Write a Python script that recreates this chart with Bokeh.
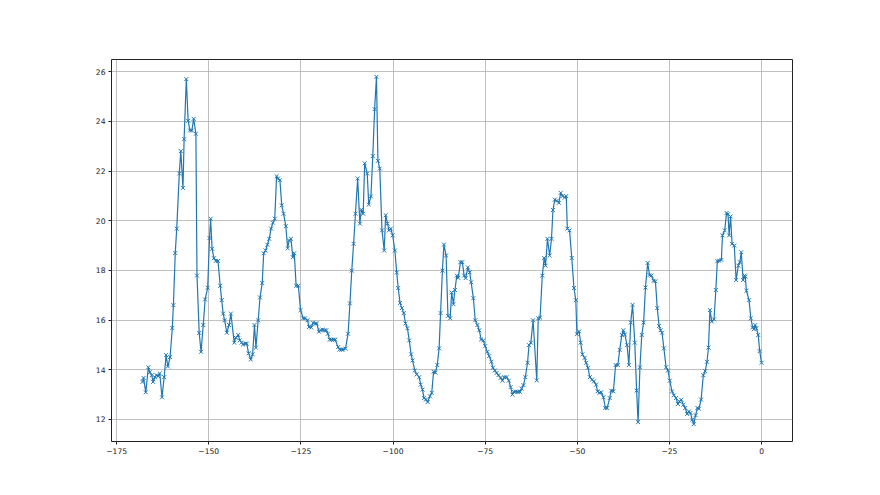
from bokeh.plotting import figure
from bokeh.models import Range1d, FixedTicker
from bokeh.embed import file_html
from bokeh.resources import INLINE

# hours before the latest reading
hours = [
    -168.0, -167.7, -167.1, -166.4, -166.0, -165.5, -165.1, -164.6, -164.2, -163.7,
    -163.3, -162.7, -162.1, -161.6, -161.1, -160.5, -159.9, -159.6, -159.1, -158.7,
    -158.0, -157.6, -157.0, -156.7, -156.1, -155.6, -155.1, -154.6, -154.1, -153.5,
    -153.2, -152.6, -152.1, -151.5, -151.0, -150.3, -149.8, -149.5, -149.1, -148.6,
    -148.1, -147.5,
    -146.9, -146.5, -146.1, -145.7, -145.1, -144.5, -144.0, -143.1, -142.7, -142.0,
    -141.6, -141.1, -140.7, -140.1, -139.7, -139.2, -138.6, -138.1, -137.6, -137.2,
    -136.6, -136.1, -135.5, -135.1, -134.6, -134.1, -133.6, -133.1, -132.6, -132.1,
    -131.6, -131.2, -130.7, -130.2, -129.7, -129.1, -128.6, -128.2, -127.7, -127.2,
    -126.8, -126.3, -125.7,
    -125.1, -124.4, -123.9, -123.2, -122.8, -122.2, -121.7, -121.1, -120.7, -120.1,
    -119.6, -119.1, -118.6, -118.1, -117.7, -117.2, -116.6, -116.1, -115.7, -114.9,
    -114.5, -114.0, -113.6, -112.9, -112.2, -111.7, -111.2, -110.7, -110.2, -109.6,
    -109.0, -108.6, -108.1, -107.7, -107.0, -106.6, -106.0, -105.5, -105.0, -104.5,
    -104.1, -103.6,
    -103.0, -102.4, -102.0, -101.5, -101.1, -100.6, -100.1, -99.5, -99.0, -98.6,
    -98.1, -97.6, -97.1, -96.6, -96.1, -95.6, -95.1, -94.7, -94.1, -93.6,
    -92.9, -92.5, -92.0, -91.6, -91.1, -90.6, -90.0, -89.5, -89.0, -88.5,
    -88.0, -87.5, -87.1, -86.6, -86.2, -85.6, -85.1, -84.5, -84.1, -83.6,
    -83.2, -82.7, -82.3,
    -81.7, -81.2, -80.7, -80.3, -79.7, -79.2, -78.8, -78.2, -77.7, -77.1,
    -76.6, -76.1, -75.5, -75.0, -74.4, -73.9, -73.3, -72.9, -72.4, -71.9,
    -71.4, -70.8, -70.3, -69.8, -69.2, -68.6, -68.1, -67.6, -67.2, -66.7,
    -66.1, -65.6, -65.1, -64.6, -64.1, -63.5, -63.1, -62.6, -62.0, -61.0,
    -60.6, -60.1, -59.5, -59.0, -58.6, -58.1, -57.5, -57.0, -56.6, -56.1,
    -55.6, -55.0, -54.5, -54.0, -53.4, -53.0, -52.7, -52.1, -51.5, -50.9,
    -50.4, -50.1, -49.5, -49.1, -48.6, -48.0, -47.6, -47.1, -46.6, -46.0,
    -45.5, -44.9, -44.5, -44.0, -43.5, -42.9, -42.4, -41.9, -41.2, -40.8,
    -40.2, -39.6, -39.0, -38.5, -37.9, -37.5, -37.1, -36.5, -36.0, -35.5,
    -35.0, -34.4, -33.9, -33.5, -33.0, -32.5, -32.0, -31.5, -30.9, -30.4,
    -29.9, -29.3, -28.8, -28.3, -27.8, -27.4, -27.0, -26.5, -25.9, -25.4,
    -24.9, -24.3, -23.8, -23.2, -22.7, -22.3, -21.8, -21.2, -20.7, -20.2,
    -19.7, -19.3, -18.8, -18.4, -17.9, -17.4, -17.0, -16.4, -15.8, -15.3,
    -14.8, -14.4, -14.0, -13.5, -12.9, -12.4, -12.0, -11.5, -10.9, -10.6,
    -10.0, -9.5, -9.1, -8.8, -8.4, -8.0, -7.4, -6.9, -6.3, -5.9,
    -5.5, -5.0, -4.6, -4.4, -4.1, -3.4, -2.9, -2.4, -2.1, -1.7,
    -1.4, -0.9, -0.5, 0.0,
]

# readings at those times
temps = [
    13.51, 13.67, 13.09, 14.10, 13.90, 13.78, 13.51, 13.70, 13.78, 13.74,
    13.85, 12.89, 13.70, 14.59, 14.13, 14.51, 15.68, 16.60, 18.70, 19.68,
    21.90, 22.80, 21.32, 23.28, 25.70, 24.02, 23.63, 23.63, 24.10, 23.50,
    17.79, 15.48, 14.72, 15.80, 16.83, 17.30, 19.30, 20.08, 18.87, 18.49,
    18.38, 18.38,
    17.38, 16.80, 16.26, 15.99, 15.49, 15.80, 16.26, 15.09, 15.29, 15.40,
    15.18, 15.09, 15.02, 15.05, 15.05, 14.66, 14.41, 14.62, 15.80, 14.89,
    15.99, 16.91, 17.49, 18.69, 18.80, 19.03, 19.27, 19.68, 19.92, 20.08,
    21.79, 21.70, 21.63, 20.62, 20.28, 19.78, 18.89, 19.20, 19.27, 18.53,
    18.69, 17.38, 17.38,
    16.40, 16.07, 16.07, 15.99, 15.72, 15.70, 15.89, 15.86, 15.86, 15.53,
    15.59, 15.61, 15.59, 15.59, 15.45, 15.21, 15.21, 15.21, 15.21, 14.91,
    14.81, 14.81, 14.81, 14.85, 15.45, 16.67, 17.99, 19.07, 20.28, 21.70,
    19.88, 20.44, 20.28, 22.31, 21.90, 20.65, 20.98, 22.60, 24.49, 25.79,
    22.41, 22.10,
    19.61, 18.80, 20.22, 19.88, 19.61, 19.68, 19.41, 18.80, 17.91, 17.29,
    16.69, 16.48, 16.28, 15.86, 15.67, 15.18, 14.62, 14.37, 13.97, 13.81,
    13.70, 13.40, 13.20, 12.86, 12.80, 12.70, 12.93, 13.07, 13.92, 13.88,
    14.19, 14.86, 16.28, 17.99, 19.04, 18.60, 16.17, 16.07, 17.11, 16.64,
    17.21, 17.79, 17.70,
    18.33, 18.33, 17.79, 17.69, 18.12, 17.92, 17.52, 16.88, 15.99, 15.80,
    15.59, 15.22, 15.18, 14.95, 14.72, 14.55, 14.32, 14.08, 13.97, 13.87,
    13.78, 13.67, 13.56, 13.70, 13.70, 13.56, 13.30, 13.00, 13.11, 13.12,
    13.11, 13.11, 13.24, 13.38, 13.70, 14.28, 14.99, 15.09, 15.99, 13.57,
    16.07, 16.10, 17.79, 18.50, 18.19, 19.27, 18.60, 19.27, 20.43, 20.85,
    20.80, 20.72, 21.12, 20.99, 20.93, 20.99, 19.68, 19.61, 18.50, 17.29,
    16.80, 15.43, 15.54, 15.09, 14.62, 14.48, 14.28, 14.08, 13.70, 13.60,
    13.53, 13.40, 13.13, 13.07, 13.09, 12.89, 12.46, 12.46, 12.86, 13.16,
    13.13, 14.19, 14.19, 14.80, 15.40, 15.59, 15.42, 14.99, 14.19, 15.90,
    16.61, 15.09, 13.16, 11.89, 14.10, 15.40, 15.90, 17.31, 18.30, 17.81,
    17.79, 17.58, 17.56, 16.48, 15.76, 15.59, 15.49, 14.86, 14.10, 13.97,
    13.56, 13.13, 12.97, 12.86, 12.62, 12.72, 12.79, 12.59, 12.46, 12.22,
    12.32, 12.26, 11.99, 11.81, 12.17, 12.46, 12.43, 12.80, 13.78, 13.94,
    14.32, 14.89, 16.40, 15.94, 16.03, 17.21, 18.37, 18.39, 18.42, 19.41,
    19.61, 20.31, 20.26, 19.41, 20.17, 19.07, 19.00, 17.61, 18.19, 18.33,
    18.73, 17.61, 17.79, 17.75, 17.18, 16.80, 16.07, 15.70, 15.63, 15.80,
    15.67, 15.40, 14.75, 14.28,
]

x_ticks = [-175, -150, -125, -100, -75, -50, -25, 0]
y_ticks = [12, 14, 16, 18, 20, 22, 24, 26]


def padded(vals, frac=0.05):
    lo, hi = min(vals), max(vals)
    span = hi - lo
    return lo - frac * span, hi + frac * span


xlo, xhi = padded(hours)
ylo, yhi = padded(temps)

p = figure(width=880, height=495, output_backend="svg", toolbar_location=None,
           x_range=Range1d(xlo, xhi), y_range=Range1d(ylo, yhi),
           min_border_left=111, min_border_right=88,
           min_border_top=59, min_border_bottom=54)

p.background_fill_color = "white"
p.border_fill_color = "white"
p.outline_line_color = "#222222"
p.outline_line_width = 1

p.line(hours, temps, line_color="#1f77b4", line_width=1.2)
p.scatter(hours, temps, marker="x", size=5.5, line_color="#1f77b4", line_width=1)

p.xaxis.ticker = FixedTicker(ticks=x_ticks)
p.yaxis.ticker = FixedTicker(ticks=y_ticks)
p.xaxis.major_label_overrides = {t: str(t).replace("-", "\u2212") for t in x_ticks}
p.yaxis.major_label_overrides = {t: str(t) for t in y_ticks}

for ax in (p.xaxis[0], p.yaxis[0]):
    ax.axis_line_color = None
    ax.major_tick_in = 0
    ax.major_tick_out = 3
    ax.major_tick_line_color = "#222222"
    ax.major_tick_line_width = 1
    ax.minor_tick_line_color = None
    ax.major_label_standoff = 3
    ax.major_label_text_font = "DejaVu Sans"
    ax.major_label_text_font_size = "7.6px"
    ax.major_label_text_color = "#222222"

p.xgrid.grid_line_color = "#b0b0b0"
p.ygrid.grid_line_color = "#b0b0b0"
p.xgrid.grid_line_width = 0.8
p.ygrid.grid_line_width = 0.8

open("out.html", "w").write(file_html(p, INLINE))
